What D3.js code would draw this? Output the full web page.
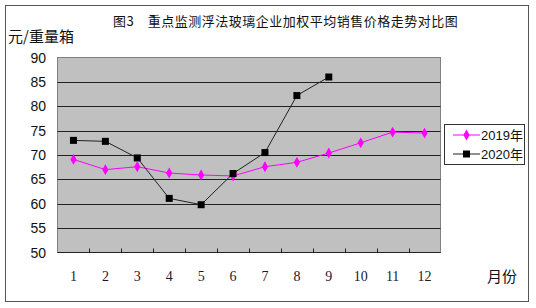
<!DOCTYPE html>
<html>
<head>
<meta charset="utf-8">
<script src="https://cdn.jsdelivr.net/npm/d3@7"></script>
<style>
  body { margin: 0; background: #fff; }
</style>
</head>
<body>
<script>
// data
const months = ["1", "2", "3", "4", "5", "6", "7", "8", "9", "10", "11", "12"];
const v2019 = [69.1, 67.0, 67.6, 66.3, 65.9, 65.7, 67.6, 68.5, 70.4, 72.5, 74.7, 74.5];
const v2020 = [73.0, 72.8, 69.4, 61.1, 59.8, 66.2, 70.5, 82.2, 86.0];
const yTicks = [50, 55, 60, 65, 70, 75, 80, 85, 90];
const seriesNames = ["2019年", "2020年"];

const width = 536, height = 308;
const plot = { left: 57.5, top: 57.5, right: 440.5, bottom: 252.5 };

const svg = d3.select("body").append("svg")
    .attr("width", width)
    .attr("height", height);

// outer frame
svg.append("rect")
    .attr("x", 5.5).attr("y", 5.5)
    .attr("width", 523).attr("height", 296)
    .attr("fill", "#fff")
    .attr("stroke", "#555");

const x = d3.scaleBand()
    .domain(months)
    .range([plot.left, plot.right]);

const y = d3.scaleLinear()
    .domain([50, 90])
    .range([plot.bottom, plot.top]);

// plot background
svg.append("rect")
    .attr("x", plot.left).attr("y", plot.top)
    .attr("width", plot.right - plot.left)
    .attr("height", plot.bottom - plot.top)
    .attr("fill", "#c0c0c0")
    .attr("stroke", "#808080");

// gridlines
svg.append("g")
    .selectAll("line")
    .data(yTicks.slice(1, -1))
    .join("line")
    .attr("x1", plot.left).attr("x2", plot.right)
    .attr("y1", d => Math.round(y(d)) + 0.5)
    .attr("y2", d => Math.round(y(d)) + 0.5)
    .attr("stroke", "#222");

// x axis line + inner ticks
svg.append("line")
    .attr("x1", plot.left).attr("x2", plot.right)
    .attr("y1", plot.bottom).attr("y2", plot.bottom)
    .attr("stroke", "#222");

svg.append("g")
    .selectAll("line")
    .data(months.slice(1))
    .join("line")
    .attr("x1", d => Math.round(x(d)) + 0.5)
    .attr("x2", d => Math.round(x(d)) + 0.5)
    .attr("y1", plot.bottom)
    .attr("y2", plot.bottom - 4)
    .attr("stroke", "#222");

// y tick labels
svg.append("g")
    .style("font", "14px 'Liberation Sans', Arial, sans-serif")
    .attr("text-anchor", "end")
    .selectAll("text")
    .data(yTicks)
    .join("text")
    .attr("x", 46)
    .attr("y", d => y(d) + 5)
    .attr("fill", "#111")
    .text(d => d);

// x tick labels
svg.append("g")
    .style("font", "14px 'Liberation Serif', 'DejaVu Serif', serif")
    .attr("text-anchor", "middle")
    .selectAll("text")
    .data(months)
    .join("text")
    .attr("x", d => x(d) + x.bandwidth() / 2)
    .attr("y", 281)
    .attr("fill", "#1a1a2e")
    .text(d => d);

// texts
svg.append("text")
    .attr("x", 113).attr("y", 26)
    .style("font", "13px 'Noto Sans CJK SC', sans-serif")
    .style("letter-spacing", "0.5px")
    .attr("fill", "#111")
    .text("图3　重点监测浮法玻璃企业加权平均销售价格走势对比图");

svg.append("text")
    .attr("x", 8).attr("y", 42)
    .style("font", "15px 'Noto Sans CJK SC', sans-serif")
    .attr("fill", "#111")
    .text("元/重量箱");

svg.append("text")
    .attr("x", 487).attr("y", 282)
    .style("font", "15px 'Noto Sans CJK SC', sans-serif")
    .attr("fill", "#111")
    .text("月份");

// lines
const line = d3.line()
    .x((d, i) => x(months[i]) + x.bandwidth() / 2)
    .y(d => y(d));

svg.append("path")
    .attr("d", line(v2019))
    .attr("fill", "none")
    .attr("stroke", "#ff00ff")
    .attr("stroke-width", 1);

svg.append("path")
    .attr("d", line(v2020))
    .attr("fill", "none")
    .attr("stroke", "#222")
    .attr("stroke-width", 1);

const diamond = d3.symbol().type(d3.symbolDiamond).size(34);

svg.append("g")
    .selectAll("path")
    .data(v2019)
    .join("path")
    .attr("d", diamond)
    .attr("transform", (d, i) => `translate(${x(months[i]) + x.bandwidth() / 2},${y(d)})`)
    .attr("fill", "#ff00ff");

svg.append("g")
    .selectAll("rect")
    .data(v2020)
    .join("rect")
    .attr("x", (d, i) => x(months[i]) + x.bandwidth() / 2 - 3.5)
    .attr("y", d => y(d) - 3.5)
    .attr("width", 7).attr("height", 7)
    .attr("fill", "#000");

// legend
const legend = svg.append("g");
legend.append("rect")
    .attr("x", 444.5).attr("y", 124.5)
    .attr("width", 80).attr("height", 40)
    .attr("fill", "#fff")
    .attr("stroke", "#333");

const legColors = ["#ff00ff", "#222"];
seriesNames.forEach((name, i) => {
    const ly = 135 + i * 19;
    legend.append("line")
        .attr("x1", 453).attr("x2", 480)
        .attr("y1", ly).attr("y2", ly)
        .attr("stroke", legColors[i]);
    if (i === 0) {
        legend.append("path")
            .attr("d", diamond)
            .attr("transform", `translate(466.5,${ly})`)
            .attr("fill", "#ff00ff");
    } else {
        legend.append("rect")
            .attr("x", 463).attr("y", ly - 3.5)
            .attr("width", 7).attr("height", 7)
            .attr("fill", "#000");
    }
    legend.append("text")
        .attr("x", 481).attr("y", ly + 5)
        .style("font", "13px 'Liberation Sans', Arial, 'Noto Sans CJK SC', sans-serif")
        .attr("fill", "#111")
        .text(name);
});
</script>
</body>
</html>
